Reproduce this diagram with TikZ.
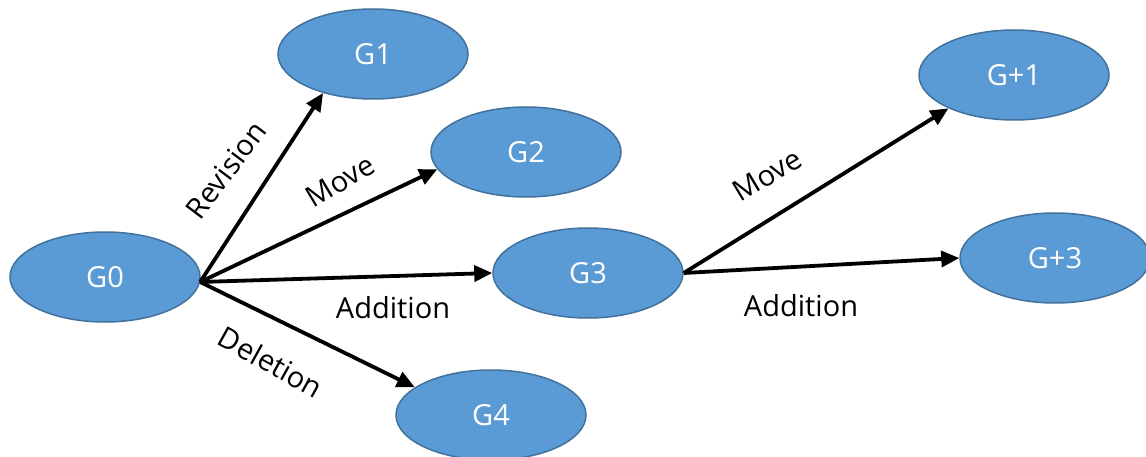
\documentclass[tikz,border=0pt]{standalone}
\usepackage{fontspec}
\setmainfont{Open Sans}
\usetikzlibrary{shapes.geometric,arrows.meta}
\definecolor{nodefill}{HTML}{5B9BD5}
\definecolor{nodeline}{HTML}{41719C}
\begin{document}
\begin{tikzpicture}[x=1pt,y=-1pt,
  state/.style={ellipse,draw=nodeline,line width=1.5pt,fill=nodefill,
    minimum width=190pt,minimum height=90pt,inner sep=0pt,
    text=white,font=\fontsize{29}{32}\selectfont},
  link/.style={line width=3.8pt,-{Triangle[length=18pt,width=16pt]}},
  lbl/.style={font=\fontsize{29}{32}\selectfont,inner sep=0pt}]
\useasboundingbox (0,0) rectangle (1146,457);
% graph states
\node[state] (G0)  at (105,277) {G0};
\node[state] (G1)  at (373,54)  {G1};
\node[state] (G2)  at (526,152) {G2};
\node[state] (G3)  at (588,273) {G3};
\node[state] (G4)  at (491,415) {G4};
\node[state] (Gp1) at (1014,75) {G+1};
\node[state] (Gp3) at (1055,258) {G+3};
% operations
\coordinate (s0) at (G0.-3);
\coordinate (s3) at (G3.east);
\draw[link] (s0) -- (G1.218);
\draw[link] (s0) -- (G2.191);
\draw[link] (s0) -- (G3.180);
\draw[link] (s0) -- (G4.160);
\draw[link] (s3) -- (Gp1.207);
\draw[link] (s3) -- (Gp3.180);
% operation labels
\node[lbl,rotate=53] (lrev) at (226,170) {Revision};
\node[lbl,rotate=31] (lmv1) at (340,181) {Move};
\node[lbl] (ladd1) at (393,308) {Addition};
\node[lbl,rotate=-29] (ldel) at (271,362) {Deletion};
\node[lbl,rotate=31] (lmv2) at (767,175) {Move};
\node[lbl] (ladd2) at (801,306) {Addition};
\end{tikzpicture}
\end{document}
